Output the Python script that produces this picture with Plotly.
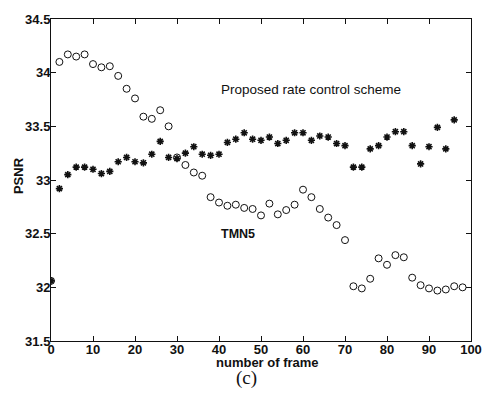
import plotly.graph_objects as go

frames_star = [0, 2, 4, 6, 8, 10, 12, 14, 16, 18, 20, 22, 24, 26, 28, 30, 32, 34, 36, 38, 40,
               42, 44, 46, 48, 50, 52, 54, 56, 58, 60, 62, 64, 66, 68, 70, 72, 74, 76, 78, 80,
               82, 84, 86, 88, 90, 92, 94, 96]
psnr_proposed = [32.06, 32.92, 33.05, 33.12, 33.12, 33.10, 33.06, 33.08, 33.17, 33.21, 33.17,
                 33.16, 33.24, 33.36, 33.21, 33.20, 33.25, 33.31, 33.24, 33.23, 33.24,
                 33.35, 33.38, 33.44, 33.38, 33.37, 33.40, 33.34, 33.37, 33.44, 33.44,
                 33.37, 33.41, 33.40, 33.34, 33.32, 33.12, 33.12, 33.29, 33.32, 33.40,
                 33.45, 33.45, 33.32, 33.15, 33.31, 33.49, 33.29, 33.56]

frames_circ = [0, 2, 4, 6, 8, 10, 12, 14, 16, 18, 20, 22, 24, 26, 28, 30, 32, 34, 36, 38, 40,
               42, 44, 46, 48, 50, 52, 54, 56, 58, 60, 62, 64, 66, 68, 70, 72, 74, 76, 78, 80,
               82, 84, 86, 88, 90, 92, 94, 96, 98]
psnr_tmn5 = [32.06, 34.10, 34.17, 34.15, 34.17, 34.08, 34.05, 34.06, 33.97, 33.85, 33.76,
             33.59, 33.57, 33.65, 33.50, 33.21, 33.14, 33.07, 33.04, 32.84, 32.79,
             32.76, 32.77, 32.74, 32.73, 32.67, 32.78, 32.68, 32.72, 32.77, 32.91,
             32.84, 32.73, 32.65, 32.58, 32.44, 32.01, 31.99, 32.08, 32.27, 32.21,
             32.30, 32.28, 32.09, 32.02, 31.99, 31.97, 31.98, 32.01, 32.00]

x_ticks = [0, 10, 20, 30, 40, 50, 60, 70, 80, 90, 100]
y_ticks = [31.5, 32, 32.5, 33, 33.5, 34, 34.5]
y_tick_text = ["31.5", "32", "32.5", "33", "33.5", "34", "34.5"]

ink = "#111111"
font_sans = "Liberation Sans, Arial, sans-serif"

fig = go.Figure()
fig.add_trace(go.Scatter(
    x=frames_circ, y=psnr_tmn5, mode="markers", name="TMN5",
    marker=dict(symbol="circle-open", size=7, color=ink, line=dict(width=1, color=ink)),
))
fig.add_trace(go.Scatter(
    x=frames_star, y=psnr_proposed, mode="markers", name="Proposed",
    marker=dict(symbol="asterisk-open", size=6, color=ink, line=dict(width=1.6, color=ink)),
))

fig.update_layout(
    width=499, height=396,
    margin=dict(l=51, r=28, t=13, b=55),
    paper_bgcolor="white", plot_bgcolor="white",
    showlegend=False,
    font=dict(family=font_sans, size=13, color=ink),
    xaxis=dict(range=[0, 100], tickvals=x_ticks, ticks="inside", ticklen=5, tickcolor=ink,
               showgrid=False, zeroline=False, showline=True, linecolor=ink, linewidth=1,
               mirror="ticks", ticklabelstandoff=-4,
               tickfont=dict(family=font_sans, size=13, color=ink, weight="bold")),
    yaxis=dict(range=[31.5, 34.5], tickvals=y_ticks, ticktext=y_tick_text, ticks="inside",
               ticklen=5, tickcolor=ink, showgrid=False, zeroline=False, showline=True,
               linecolor=ink, linewidth=1, mirror="ticks", ticklabelstandoff=-3,
               tickfont=dict(family=font_sans, size=13, color=ink, weight="bold")),
)

fig.add_annotation(x=62, y=33.84, text="Proposed rate control scheme", showarrow=False,
                   xanchor="center", yanchor="middle",
                   font=dict(family=font_sans, size=13.5, color=ink))
fig.add_annotation(x=44.5, y=32.5, text="<b>TMN5</b>", showarrow=False,
                   xanchor="center", yanchor="middle",
                   font=dict(family=font_sans, size=12.5, color=ink))

# paper-positioned texts (convert pixel positions to paper coords)
pl, pr, pt, pb = 51, 471, 13, 341
def px(xp):
    return (xp - pl) / (pr - pl)
def py(yp):
    return (pb - yp) / (pb - pt)

fig.add_annotation(x=px(267), y=py(363), xref="paper", yref="paper",
                   xanchor="center", yanchor="middle",
                   text="<b>number of frame</b>", showarrow=False,
                   font=dict(family=font_sans, size=13, color=ink))
fig.add_annotation(x=px(246), y=py(379), xref="paper", yref="paper", text="(c)",
                   xanchor="center", yanchor="middle", showarrow=False,
                   font=dict(family="Liberation Serif, Times New Roman, serif", size=19, color=ink))
fig.add_annotation(x=px(18), y=py(173), xref="paper", yref="paper", text="<b>PSNR</b>",
                   xanchor="center", yanchor="middle", showarrow=False, textangle=-90,
                   font=dict(family=font_sans, size=13, color=ink))

fig.write_html("out.html")
